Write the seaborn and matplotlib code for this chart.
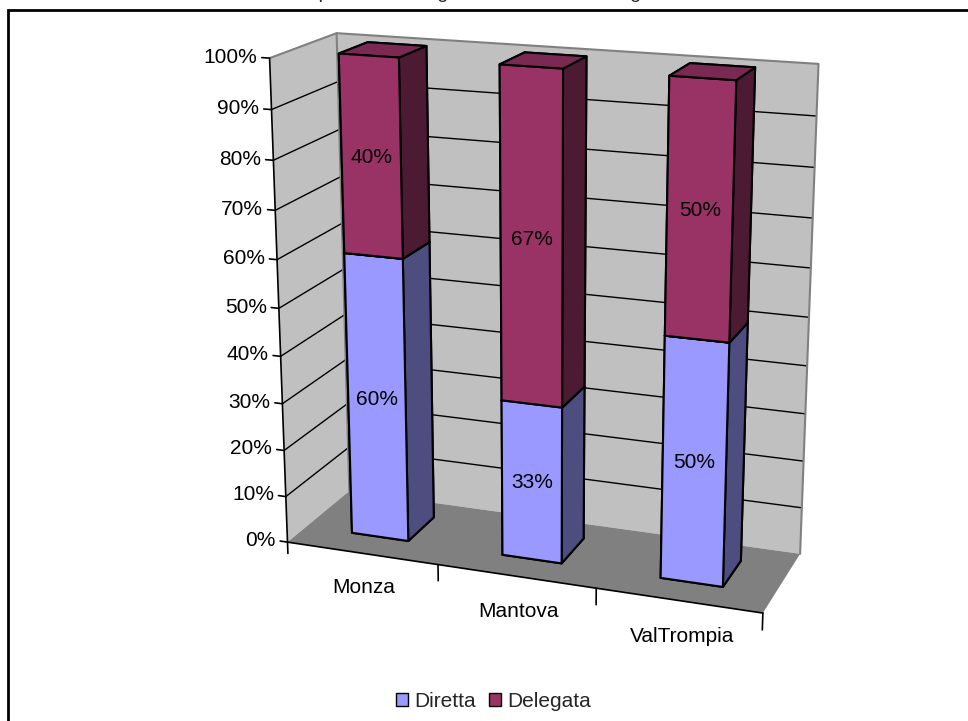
import numpy as np
import matplotlib
matplotlib.use("Agg")
import matplotlib.pyplot as plt
import seaborn as sns
from matplotlib.patches import Patch, Rectangle
from mpl_toolkits.mplot3d.art3d import Poly3DCollection

sns.set_theme(style="white")
plt.rcParams['font.family'] = ['Liberation Sans', 'DejaVu Sans']

title = "Ripartizione tra gestione diretta e delegata"
categories = ["Monza", "Mantova", "ValTrompia"]
series = ["Diretta", "Delegata"]
diretta = [0.60, 0.33, 0.50]
delegata = [0.40, 0.67, 0.50]
value_labels = [["60%", "33%", "50%"], ["40%", "67%", "50%"]]
yticks = [0.0, 0.1, 0.2, 0.3, 0.4, 0.5, 0.6, 0.7, 0.8, 0.9, 1.0]
ytick_labels = ["0%", "10%", "20%", "30%", "40%", "50%", "60%", "70%", "80%", "90%", "100%"]

# front, top, side colours per series
face_cols = {"Diretta": ("#9999FF", "#7A7ACC", "#4D4D80"),
             "Delegata": ("#993366", "#7A2952", "#4D1A33")}

fig = plt.figure(figsize=(9.68, 7.21), dpi=100)
ax = fig.add_axes([0.151, 0.104, 0.8, 0.9], projection='3d', proj_type='persp', focal_length=0.62)
ax.view_init(elev=17, azim=-70)
ax.set_box_aspect((1, 0.3, 1.0), zoom=1.1)
ax.set_axis_off()
ax.computed_zorder = False

x0, x1 = -0.5, len(categories) - 0.5
y0, y1 = 0.0, 1.0
ax.set_xlim(x0, x1)
ax.set_ylim(y0, y1)
ax.set_zlim(0, 1)

# walls and floor
walls = Poly3DCollection([
    [(x0, y0, 0), (x0, y1, 0), (x0, y1, 1), (x0, y0, 1)],
    [(x0, y1, 0), (x1, y1, 0), (x1, y1, 1), (x0, y1, 1)],
], facecolor="#C0C0C0", edgecolor="none", zorder=0)
floor = Poly3DCollection([[(x0, y0, 0), (x1, y0, 0), (x1, y1, 0), (x0, y1, 0)]],
                         facecolor="#808080", edgecolor="none", zorder=0)
ax.add_collection3d(walls)
ax.add_collection3d(floor)

# gridlines on the walls
for z in yticks[1:-1]:
    ax.plot([x0, x0, x1], [y0, y1, y1], [z, z, z], color="black", lw=1, zorder=1)
ax.plot([x0, x0, x1, x1], [y0, y1, y1, y1], [1, 1, 1, 0], color="#808080", lw=1.5, zorder=1)
ax.plot([x0, x0], [y1, y1], [0, 1], color="#808080", lw=1.5, zorder=1)

# axes lines and ticks
ax.plot([x0, x0], [y0, y0], [-0.025, 1], color="black", lw=1.2, zorder=1)
ax.plot([x0, x1], [y0, y0], [0, 0], color="black", lw=1.2, zorder=1)
for z, lab in zip(yticks, ytick_labels):
    ax.plot([x0 - 0.05, x0], [y0, y0], [z, z], color="black", lw=1.2, zorder=1)
    ax.text(x0 - 0.08, y0, z, lab, ha="right", va="center", fontsize=15, color="black", zorder=5)
for b in np.arange(x0 + 1, x1 + 0.01, 1.0):
    ax.plot([b, b], [y0, y0], [0, -0.035], color="black", lw=1.2, zorder=1)
for i, cat in enumerate(categories):
    ax.text(i + 0.05, y0 - 0.1, -0.04, cat, ha="center", va="top", fontsize=15, color="black", zorder=5)

# bars
bw, by0, bdepth = 0.38, 0.3, 0.45
xs, ys, zs, dxs, dys, dzs, cols = [], [], [], [], [], [], []
bottom = np.zeros(len(categories))
for name, vals in zip(series, [diretta, delegata]):
    front, top, side = face_cols[name]
    for i, v in enumerate(vals):
        xs.append(i - bw / 2); ys.append(by0); zs.append(bottom[i])
        dxs.append(bw); dys.append(bdepth); dzs.append(v)
        # -z, +z, -y, +y, -x, +x
        cols += [side, top, front, side, side, side]
    bottom += np.array(vals)
ax.bar3d(xs, ys, zs, dxs, dys, dzs, color=cols, shade=False,
         edgecolor="black", linewidth=1.5, zorder=2)

bottom = np.zeros(len(categories))
for vals, labs in zip([diretta, delegata], value_labels):
    for i, (v, lab) in enumerate(zip(vals, labs)):
        ax.text(i, by0, bottom[i] + v / 2, lab, ha="center", va="center", fontsize=15,
                color="black", zorder=6)
    bottom += np.array(vals)

handles = [Patch(facecolor=face_cols[s][0], edgecolor="black", label=s) for s in series]
fig.legend(handles=handles, loc="lower center", bbox_to_anchor=(0.51, -0.012), ncol=2,
           frameon=False, fontsize=15, handlelength=0.6, handleheight=0.6,
           handletextpad=0.3, columnspacing=0.6)

fig.text(0.5, 1 + 2 / 721, title, ha="center", va="baseline", fontsize=14)
fig.patches.append(Rectangle((8 / 968, -0.1), 1.2, 0.1 + 1 - 10 / 721, transform=fig.transFigure,
                             fill=False, edgecolor="black", lw=2, zorder=10))

fig.savefig("out.png", dpi=100)
